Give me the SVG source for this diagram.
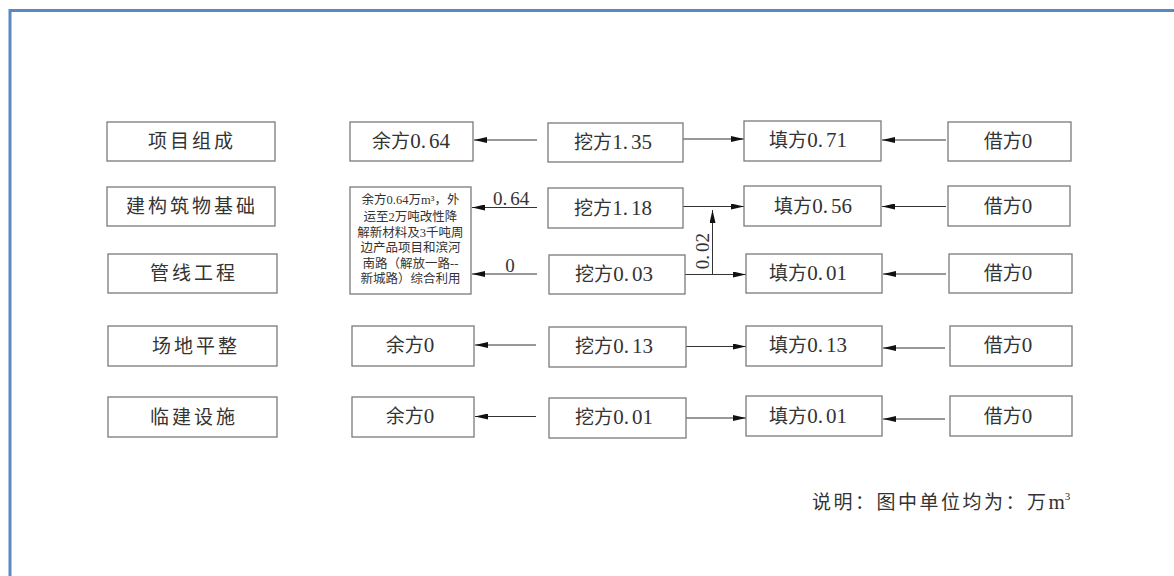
<svg xmlns="http://www.w3.org/2000/svg" width="1174" height="576" viewBox="0 0 1174 576">
<style>
.box{fill:#fff;stroke:#7a7a7a;stroke-width:1.3}
.t{font-family:"Liberation Serif","Noto Sans CJK SC",serif;font-size:19px;fill:#333;text-anchor:middle}
.n{font-size:21px}
.lbl{letter-spacing:3px}
.s{font-family:"Liberation Serif","Noto Sans CJK SC",serif;font-size:12.5px;fill:#333;text-anchor:middle}
.c{stroke:#333;stroke-width:1;fill:none;marker-end:url(#ah)}
.frame{stroke:#5a88c4;stroke-width:3;fill:none}
</style>
<defs>
<marker id="ah" markerUnits="userSpaceOnUse" markerWidth="13" markerHeight="6" refX="13" refY="3" orient="auto">
<path d="M0,0 L13,3 L0,6 z" fill="#111"/>
</marker>
</defs>
<rect width="1174" height="576" fill="#fff"/>
<path class="frame" d="M10,576 L10,10.5 L1174,10.5"/>

<g id="connectors">
<line class="c" x1="537" y1="140" x2="474" y2="140"/>
<line class="c" x1="683" y1="139" x2="744" y2="139"/>
<line class="c" x1="946" y1="140" x2="882" y2="140"/>
<line class="c" x1="537" y1="207.5" x2="472" y2="207.5"/>
<line class="c" x1="683" y1="206.5" x2="744" y2="206.5"/>
<line class="c" x1="946" y1="206.5" x2="882" y2="206.5"/>
<line class="c" x1="537" y1="274" x2="472" y2="274"/>
<line class="c" x1="685" y1="274.5" x2="746" y2="274.5"/>
<line class="c" x1="712.5" y1="274.5" x2="712.5" y2="210"/>
<line class="c" x1="946" y1="274" x2="883" y2="274"/>
<line class="c" x1="536" y1="345" x2="475" y2="345"/>
<line class="c" x1="686" y1="346.5" x2="746" y2="346.5"/>
<line class="c" x1="945" y1="348" x2="883" y2="348"/>
<line class="c" x1="536" y1="416.5" x2="475" y2="416.5"/>
<line class="c" x1="686" y1="418" x2="746" y2="418"/>
<line class="c" x1="945" y1="419" x2="883" y2="419"/>
<text class="t" x="511" y="205" font-size="20">0.<tspan dx="3">64</tspan></text>
<text class="t" x="510" y="272" font-size="20">0</text>
<text class="t" font-size="20" transform="translate(709,251) rotate(-90)">0.<tspan dx="3">02</tspan></text>
</g>

<g id="n-xmzc"><rect class="box" x="107" y="122" width="168" height="39"/><text class="t lbl" x="192" y="148">项目组成</text></g>
<g id="n-jgzw"><rect class="box" x="107" y="187" width="168" height="39"/><text class="t lbl" x="192" y="213">建构筑物基础</text></g>
<g id="n-gxgc"><rect class="box" x="108" y="254" width="169" height="39"/><text class="t lbl" x="194" y="280">管线工程</text></g>
<g id="n-cdpz"><rect class="box" x="108" y="326" width="169" height="40"/><text class="t lbl" x="196" y="353">场地平整</text></g>
<g id="n-ljss"><rect class="box" x="108" y="397" width="169" height="40"/><text class="t lbl" x="194" y="424">临建设施</text></g>

<g id="n-yf1"><rect class="box" x="350" y="122" width="123" height="39"/><text class="t" x="411" y="148">余方<tspan class="n">0.</tspan><tspan class="n" dx="3">64</tspan></text></g>
<g id="n-yf2"><rect class="box" x="350" y="187" width="121" height="107"/>
<text class="s" x="410.5" y="204">余方0.64万m³，外</text>
<text class="s" x="410.5" y="220.5">运至2万吨改性降</text>
<text class="s" x="410.5" y="236.5">解新材料及3千吨周</text>
<text class="s" x="410.5" y="251.5">边产品项目和滨河</text>
<text class="s" x="410.5" y="267.5">南路（解放一路--</text>
<text class="s" x="410.5" y="283">新城路）综合利用</text>
</g>
<g id="n-yf4"><rect class="box" x="352" y="326" width="122" height="40"/><text class="t" x="410" y="352">余方<tspan class="n">0</tspan></text></g>
<g id="n-yf5"><rect class="box" x="352" y="397" width="122" height="40"/><text class="t" x="410" y="423">余方<tspan class="n">0</tspan></text></g>

<g id="n-wf1"><rect class="box" x="548" y="123" width="135" height="39"/><text class="t" x="613" y="149">挖方<tspan class="n">1.</tspan><tspan class="n" dx="3">35</tspan></text></g>
<g id="n-wf2"><rect class="box" x="548" y="188" width="135" height="40"/><text class="t" x="613" y="215">挖方<tspan class="n">1.</tspan><tspan class="n" dx="3">18</tspan></text></g>
<g id="n-wf3"><rect class="box" x="549" y="255" width="136" height="39"/><text class="t" x="614" y="281">挖方<tspan class="n">0.</tspan><tspan class="n" dx="3">03</tspan></text></g>
<g id="n-wf4"><rect class="box" x="549" y="327" width="137" height="40"/><text class="t" x="614" y="353">挖方<tspan class="n">0.</tspan><tspan class="n" dx="3">13</tspan></text></g>
<g id="n-wf5"><rect class="box" x="549" y="398" width="137" height="40"/><text class="t" x="614" y="424">挖方<tspan class="n">0.</tspan><tspan class="n" dx="3">01</tspan></text></g>

<g id="n-tf1"><rect class="box" x="744" y="121" width="137" height="40"/><text class="t" x="808" y="147">填方<tspan class="n">0.</tspan><tspan class="n" dx="3">71</tspan></text></g>
<g id="n-tf2"><rect class="box" x="744" y="186" width="137" height="40"/><text class="t" x="813" y="213">填方<tspan class="n">0.</tspan><tspan class="n" dx="3">56</tspan></text></g>
<g id="n-tf3"><rect class="box" x="746" y="254" width="136" height="39"/><text class="t" x="808" y="280">填方<tspan class="n">0.</tspan><tspan class="n" dx="3">01</tspan></text></g>
<g id="n-tf4"><rect class="box" x="746" y="326" width="136" height="40"/><text class="t" x="808" y="352">填方<tspan class="n">0.</tspan><tspan class="n" dx="3">13</tspan></text></g>
<g id="n-tf5"><rect class="box" x="746" y="396" width="136" height="40"/><text class="t" x="808" y="423">填方<tspan class="n">0.</tspan><tspan class="n" dx="3">01</tspan></text></g>

<g id="n-jf1"><rect class="box" x="948" y="122" width="123" height="39"/><text class="t" x="1008" y="148">借方<tspan class="n">0</tspan></text></g>
<g id="n-jf2"><rect class="box" x="948" y="186" width="122" height="40"/><text class="t" x="1008" y="213">借方<tspan class="n">0</tspan></text></g>
<g id="n-jf3"><rect class="box" x="949" y="254" width="123" height="39"/><text class="t" x="1008" y="280">借方<tspan class="n">0</tspan></text></g>
<g id="n-jf4"><rect class="box" x="950" y="326" width="122" height="40"/><text class="t" x="1008" y="352">借方<tspan class="n">0</tspan></text></g>
<g id="n-jf5"><rect class="box" x="950" y="396" width="122" height="40"/><text class="t" x="1008" y="423">借方<tspan class="n">0</tspan></text></g>

<g id="legend"><text class="t" x="812" y="509" style="text-anchor:start"><tspan style="letter-spacing:2.5px">说明：图中单位均为：万</tspan><tspan class="n">m</tspan><tspan font-size="11" dy="-9">3</tspan></text></g>
</svg>
